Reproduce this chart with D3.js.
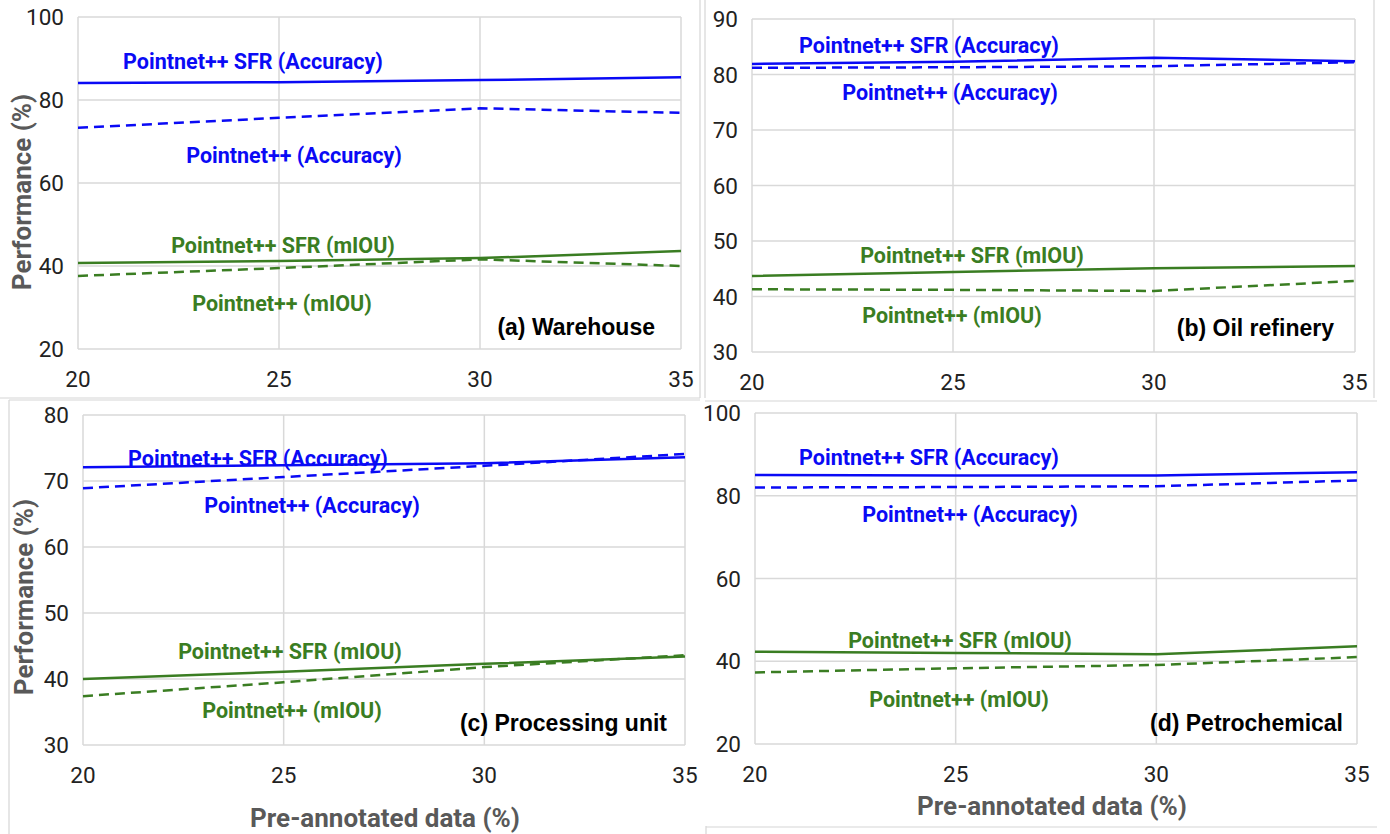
<!DOCTYPE html>
<html lang="en">
<head>
    <meta charset="UTF-8">
    <title>Pointnet++ vs Pointnet++ SFR</title>
    <script src="https://d3js.org/d3.v7.min.js"></script>
    <style>
        body, html {
            margin: 0;
            padding: 0;
            width: 100%;
            height: 100%;
            overflow: hidden;
            background: #fff;
        }
        .tick-label {
            font-family: Roboto, "Noto Sans", sans-serif;
            font-size: 22.5px;
            fill: #222;
        }
        .series-label {
            font-family: Roboto, sans-serif;
            font-weight: bold;
            font-size: 21.5px;
        }
        .panel-title {
            font-family: "Liberation Sans", Arial, sans-serif;
            font-weight: bold;
            font-size: 23px;
            fill: #000;
        }
        .axis-title {
            font-family: Roboto, sans-serif;
            font-weight: bold;
            font-size: 26px;
            fill: #595959;
        }
    </style>
</head>
<body>
    <div id="chart"></div>

    <script>
        // x values shared by all four panels
        var xValues = [20, 25, 30, 35];
        var xTicks = [20, 25, 30, 35];

        // (a) Warehouse
        var aSfrAcc  = [84.1, 84.3, 84.8, 85.5];
        var aAcc     = [73.3, 75.7, 78.0, 76.9];
        var aSfrMiou = [40.7, 41.2, 41.9, 43.6];
        var aMiou    = [37.6, 39.5, 41.6, 40.0];
        var aTicks   = [20, 40, 60, 80, 100];

        // (b) Oil refinery
        var bSfrAcc  = [81.9, 82.3, 83.0, 82.4];
        var bAcc     = [81.2, 81.3, 81.5, 82.2];
        var bSfrMiou = [43.7, 44.4, 45.1, 45.5];
        var bMiou    = [41.3, 41.2, 41.0, 42.8];
        var bTicks   = [30, 40, 50, 60, 70, 80, 90];

        // (c) Processing unit
        var cSfrAcc  = [72.1, 72.4, 72.7, 73.6];
        var cAcc     = [68.9, 70.6, 72.3, 74.1];
        var cSfrMiou = [40.0, 41.1, 42.3, 43.4];
        var cMiou    = [37.4, 39.5, 41.8, 43.6];
        var cTicks   = [30, 40, 50, 60, 70, 80];

        // (d) Petrochemical
        var dSfrAcc  = [85.0, 84.9, 84.9, 85.7];
        var dAcc     = [82.0, 82.1, 82.3, 83.7];
        var dSfrMiou = [42.3, 42.0, 41.7, 43.6];
        var dMiou    = [37.3, 38.3, 39.1, 41.0];
        var dTicks   = [20, 40, 60, 80, 100];

        var seriesNames = ["Pointnet++ SFR (Accuracy)", "Pointnet++ (Accuracy)",
                           "Pointnet++ SFR (mIOU)", "Pointnet++ (mIOU)"];
        var panelTitles = ["(a) Warehouse", "(b) Oil refinery",
                           "(c) Processing unit", "(d) Petrochemical"];

        var blue = "#0a0af5", green = "#3a7d22";
        var styles = [
            {color: blue, dash: null},
            {color: blue, dash: "10,6"},
            {color: green, dash: null},
            {color: green, dash: "10,6"}
        ];

        // layout of each panel (plot box in page pixels) and label spots
        var panels = [
            {box: [78, 17, 681, 349], domain: [20, 100], ticks: aTicks,
             series: [aSfrAcc, aAcc, aSfrMiou, aMiou],
             labels: [[253, 62], [294, 156], [283, 246], [282, 304]],
             title: [655, 327], yTitle: [22, 192], xTitle: null},
            {box: [752, 19, 1355, 352], domain: [30, 90], ticks: bTicks,
             series: [bSfrAcc, bAcc, bSfrMiou, bMiou],
             labels: [[929, 46], [950, 93], [972, 256], [952, 316]],
             title: [1334, 328], yTitle: null, xTitle: null},
            {box: [83, 415, 685, 745], domain: [30, 80], ticks: cTicks,
             series: [cSfrAcc, cAcc, cSfrMiou, cMiou],
             labels: [[258, 459], [312, 506], [290, 652], [292, 711]],
             title: [667, 723], yTitle: [24, 597], xTitle: [385, 818]},
            {box: [755, 413, 1357, 744], domain: [20, 100], ticks: dTicks,
             series: [dSfrAcc, dAcc, dSfrMiou, dMiou],
             labels: [[929, 458], [970, 515], [960, 641], [959, 700]],
             title: [1343, 723], yTitle: null, xTitle: [1052, 806]}
        ];

        var svg = d3.select("#chart").append("svg")
            .attr("width", 1390)
            .attr("height", 834);

        // faint frame lines left over from the composed screenshot
        var frames = [
            [700, 0, 700, 398], [705, 0, 705, 398], [1374, 0, 1374, 398],
            [0, 398, 700, 398], [705, 401, 1377, 401],
            [9, 400, 9, 834], [9, 400, 700, 400],
            [706, 826, 706, 834], [706, 827, 1377, 827]
        ];
        svg.selectAll("line.frame")
            .data(frames)
            .enter().append("line")
            .attr("class", "frame")
            .attr("x1", d => d[0]).attr("y1", d => d[1])
            .attr("x2", d => d[2]).attr("y2", d => d[3])
            .attr("stroke", "#d6d6d6")
            .attr("stroke-width", 1.2);

        panels.forEach(function(p, i) {
            var x = d3.scaleLinear()
                .domain([20, 35])
                .range([p.box[0], p.box[2]]);
            var y = d3.scaleLinear()
                .domain(p.domain)
                .range([p.box[3], p.box[1]]);

            var g = svg.append("g");

            // grid
            g.selectAll("line.hgrid")
                .data(p.ticks)
                .enter().append("line")
                .attr("x1", p.box[0]).attr("x2", p.box[2])
                .attr("y1", d => y(d)).attr("y2", d => y(d))
                .attr("stroke", "#d9d9d9")
                .attr("stroke-width", 1.5);
            g.selectAll("line.vgrid")
                .data(xTicks)
                .enter().append("line")
                .attr("y1", p.box[1]).attr("y2", p.box[3])
                .attr("x1", d => x(d)).attr("x2", d => x(d))
                .attr("stroke", "#d9d9d9")
                .attr("stroke-width", 1.5);

            // y tick labels
            g.selectAll("text.ytick")
                .data(p.ticks)
                .enter().append("text")
                .attr("class", "tick-label")
                .attr("x", p.box[0] - 14)
                .attr("y", d => y(d) + 8)
                .attr("text-anchor", "end")
                .text(d => d);

            // x tick labels
            g.selectAll("text.xtick")
                .data(xTicks)
                .enter().append("text")
                .attr("class", "tick-label")
                .attr("x", d => x(d))
                .attr("y", p.box[3] + 38)
                .attr("text-anchor", "middle")
                .text(d => d);

            // lines
            var line = d3.line()
                .x((d, j) => x(xValues[j]))
                .y(d => y(d));

            p.series.forEach(function(s, k) {
                g.append("path")
                    .datum(s)
                    .attr("d", line)
                    .attr("fill", "none")
                    .attr("stroke", styles[k].color)
                    .attr("stroke-width", 2.5)
                    .attr("stroke-dasharray", styles[k].dash);
            });

            // series labels
            p.labels.forEach(function(l, k) {
                g.append("text")
                    .attr("class", "series-label")
                    .attr("x", l[0])
                    .attr("y", l[1] + 7)
                    .attr("text-anchor", "middle")
                    .attr("fill", styles[k].color)
                    .text(seriesNames[k]);
            });

            // panel title
            g.append("text")
                .attr("class", "panel-title")
                .attr("x", p.title[0])
                .attr("y", p.title[1] + 8)
                .attr("text-anchor", "end")
                .text(panelTitles[i]);

            if (p.yTitle) {
                g.append("text")
                    .attr("class", "axis-title")
                    .attr("transform", "translate(" + (p.yTitle[0] + 9) + "," + p.yTitle[1] + ") rotate(-90)")
                    .attr("text-anchor", "middle")
                    .text("Performance (%)");
            }
            if (p.xTitle) {
                g.append("text")
                    .attr("class", "axis-title")
                    .attr("x", p.xTitle[0])
                    .attr("y", p.xTitle[1] + 9)
                    .attr("text-anchor", "middle")
                    .text("Pre-annotated data (%)");
            }
        });
    </script>
</body>
</html>
